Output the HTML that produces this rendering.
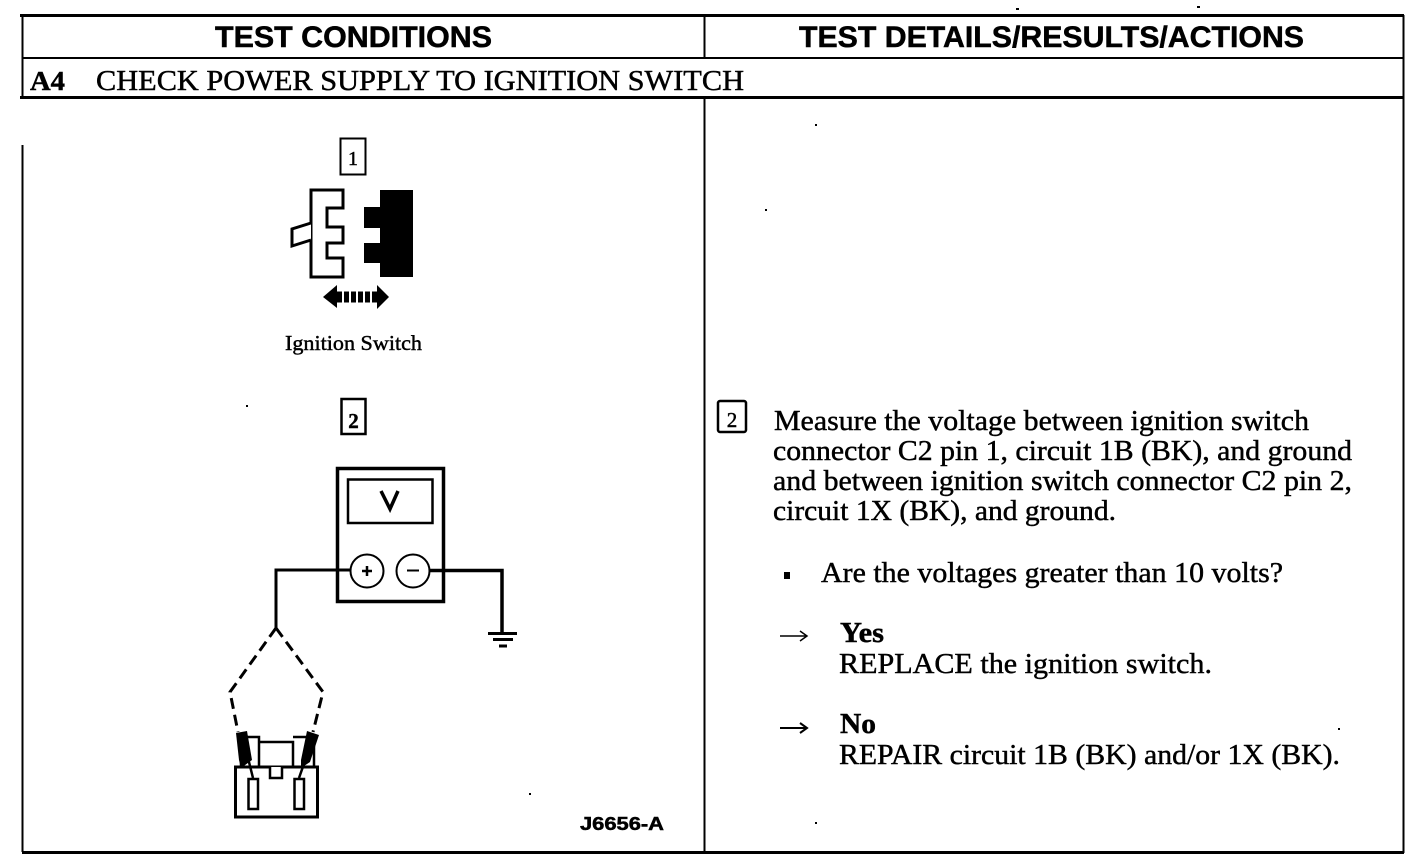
<!DOCTYPE html>
<html><head><meta charset="utf-8"><style>
html,body{margin:0;padding:0;background:#fff}
svg{display:block}
.s{font-family:"Liberation Serif",serif;fill:#000;stroke:#000;stroke-width:.45px}
.h{font-family:"Liberation Sans",sans-serif;font-weight:bold;fill:#000;stroke:#000;stroke-width:.5px}
</style></head><body>
<svg width="1424" height="860" viewBox="0 0 1424 860" xmlns="http://www.w3.org/2000/svg">
<g stroke="#000" fill="none">
<path d="M20 15.5H1404" stroke-width="3"/>
<path d="M22 58H1404" stroke-width="2"/>
<path d="M20 97.5H1404" stroke-width="3"/>
<path d="M22.5 15V98M22.5 145V852" stroke-width="2"/>
<path d="M1403.5 15V853" stroke-width="2"/>
<path d="M704.5 15V58M704.5 98V853" stroke-width="2"/>
<path d="M22 852.5H1404" stroke-width="3"/>
</g>
<text class="h" x="215" y="47" font-size="30" textLength="277" lengthAdjust="spacingAndGlyphs">TEST CONDITIONS</text>
<text class="h" x="799" y="47" font-size="30" textLength="505" lengthAdjust="spacingAndGlyphs">TEST DETAILS/RESULTS/ACTIONS</text>
<text class="s" x="30" y="90" font-size="27" font-weight="bold" textLength="35" lengthAdjust="spacingAndGlyphs">A4</text>
<text class="s" x="96" y="90" font-size="29" textLength="648" lengthAdjust="spacingAndGlyphs">CHECK POWER SUPPLY TO IGNITION SWITCH</text>

<rect x="340.500" y="138.500" width="25" height="36" fill="none" stroke="#000" stroke-width="2"/>
<text class="s" x="353" y="165" font-size="20" text-anchor="middle">1</text>
<path d="M311 190H343V208H327V227H343V243H327V258H343V277H311Z" fill="#fff" stroke="#000" stroke-width="3"/>
<path d="M311 223L292 229V246L311 240" fill="#fff" stroke="#000" stroke-width="3"/>
<path d="M380 190H413V277H380V263H364V243H380V228H364V207H380Z" fill="#000"/>
<path d="M323 297L337 285V308Z" fill="#000"/><path d="M389 297L377 285V309Z" fill="#000"/>
<path d="M337 297H377" stroke="#000" stroke-width="11" stroke-dasharray="5 2" fill="none"/>
<text class="s" x="285" y="350" font-size="21" textLength="137" lengthAdjust="spacingAndGlyphs">Ignition Switch</text>

<rect x="341.500" y="399" width="24" height="35" fill="none" stroke="#000" stroke-width="2.500"/>
<text class="s" x="353.500" y="428" font-size="21" font-weight="bold" text-anchor="middle">2</text>
<rect x="337.500" y="468.500" width="106" height="133" fill="#fff" stroke="#000" stroke-width="3.500"/>
<rect x="348" y="479.500" width="84.500" height="43.500" fill="none" stroke="#000" stroke-width="2.500"/>
<path d="M381 491L390 509L398 491" fill="none" stroke="#000" stroke-width="3.500"/>
<circle cx="367" cy="571" r="16.500" fill="#fff" stroke="#000" stroke-width="2"/>
<circle cx="413" cy="571" r="16.500" fill="#fff" stroke="#000" stroke-width="2"/>
<path d="M362 571H372M367 566V576" stroke="#000" stroke-width="2.500"/>
<path d="M407 570.500H419" stroke="#000" stroke-width="2"/>
<path d="M350 570H276V628" fill="none" stroke="#000" stroke-width="3"/>
<path d="M430 570.500H502V633" fill="none" stroke="#000" stroke-width="3.500"/>
<path d="M488 633.500H517M493 639.500H513M499 646H507" stroke="#000" stroke-width="3"/>
<path d="M276 628L230 692L238 732" fill="none" stroke="#000" stroke-width="3" stroke-dasharray="11 6"/>
<path d="M276 628L323 692L313 732" fill="none" stroke="#000" stroke-width="3" stroke-dasharray="11 6"/>

<path d="M235.500 767H317.500V817H235.500Z" fill="#fff" stroke="#000" stroke-width="3"/>
<path d="M241 767V737H259V767M259 742H293V767M293 737H314V767" fill="none" stroke="#000" stroke-width="2.500"/>
<path d="M270 767V778H282V767" fill="#fff" stroke="#000" stroke-width="2.500"/>
<path d="M236 733L247 731L252 760L241 768L239 760Z" fill="#000"/>
<path d="M307 731L319 735L310 762L301 768L301 760Z" fill="#000"/>
<path d="M248 758L253 778M306 758L299 778" stroke="#000" stroke-width="2.500"/>
<rect x="248.500" y="779" width="9.500" height="30" fill="#fff" stroke="#000" stroke-width="2.500"/>
<rect x="294.500" y="779" width="9.500" height="30" fill="#fff" stroke="#000" stroke-width="2.500"/>
<text class="h" x="580" y="830" font-size="18" textLength="84" lengthAdjust="spacingAndGlyphs">J6656-A</text>

<rect x="718" y="401" width="28" height="31" rx="2" fill="none" stroke="#000" stroke-width="2.500"/>
<text class="s" x="732" y="427" font-size="21" text-anchor="middle">2</text>
<text class="s" x="774" y="430" font-size="29" textLength="535" lengthAdjust="spacingAndGlyphs">Measure the voltage between ignition switch</text>
<text class="s" x="773" y="460" font-size="29" textLength="579" lengthAdjust="spacingAndGlyphs">connector C2 pin 1, circuit 1B (BK), and ground</text>
<text class="s" x="773" y="490" font-size="29" textLength="579" lengthAdjust="spacingAndGlyphs">and between ignition switch connector C2 pin 2,</text>
<text class="s" x="773" y="520" font-size="29" textLength="343" lengthAdjust="spacingAndGlyphs">circuit 1X (BK), and ground.</text>
<text class="s" x="821" y="582" font-size="29" textLength="462" lengthAdjust="spacingAndGlyphs">Are the voltages greater than 10 volts?</text>
<text class="s" x="840" y="642" font-size="29" font-weight="bold" textLength="44" lengthAdjust="spacingAndGlyphs">Yes</text>
<text class="s" x="839" y="673" font-size="29" textLength="373" lengthAdjust="spacingAndGlyphs">REPLACE the ignition switch.</text>
<text class="s" x="840" y="733" font-size="29" font-weight="bold" textLength="36" lengthAdjust="spacingAndGlyphs">No</text>
<text class="s" x="839" y="764" font-size="29" textLength="501" lengthAdjust="spacingAndGlyphs">REPAIR circuit 1B (BK) and/or 1X (BK).</text>
<rect x="784" y="572" width="6" height="7" fill="#000"/>
<path d="M780 636H806M800 631L807 636L800 641" fill="none" stroke="#000" stroke-width="1.500"/>
<path d="M780 728H806M800 723L807 728L800 733" fill="none" stroke="#000" stroke-width="2"/>
<g fill="#000">
<rect x="1016" y="8" width="3" height="2"/><rect x="1197" y="6" width="3" height="2"/>
<rect x="815" y="124" width="2" height="2"/><rect x="765" y="209" width="2" height="2"/>
<rect x="246" y="405" width="2" height="2"/><rect x="529" y="793" width="2" height="2"/>
<rect x="815" y="822" width="2" height="2"/><rect x="1338" y="728" width="2" height="2"/>
</g>
</svg>
</body></html>
